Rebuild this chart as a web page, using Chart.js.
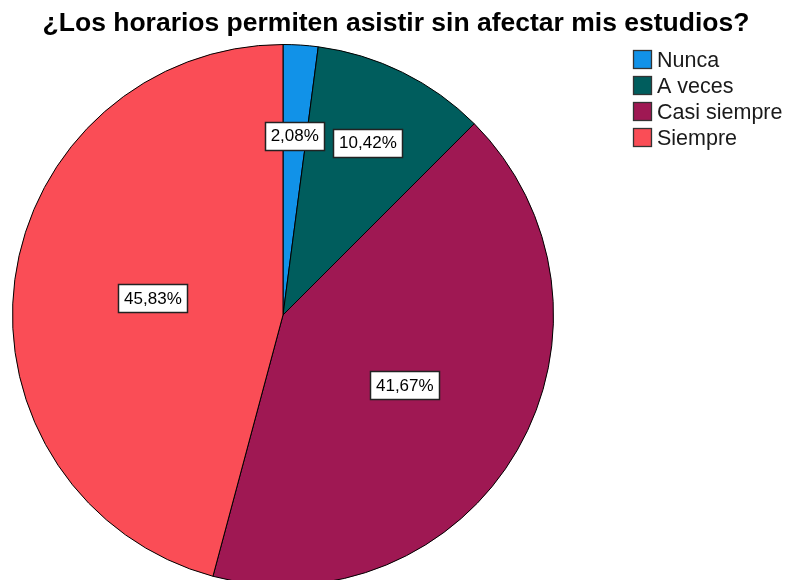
<!DOCTYPE html>
<html>
<head>
<meta charset="utf-8">
<script src="https://cdn.jsdelivr.net/npm/chart.js@4.4.7/dist/chart.umd.min.js"></script>
<style>
  html, body { margin: 0; padding: 0; background: #fff; overflow: hidden; }
  canvas { display: block; }
</style>
</head>
<body>
<canvas id="chart" width="787" height="600"></canvas>
<script>
// Data
const title = "¿Los horarios permiten asistir sin afectar mis estudios?";
const categories = ["Nunca", "A veces", "Casi siempre", "Siempre"];
const percents = [2.08, 10.42, 41.67, 45.83];
const labels = ["2,08%", "10,42%", "41,67%", "45,83%"];
const colors = ["#1192e8", "#005d5d", "#9f1853", "#fa4d56"];

// how far out (fraction of radius) each label box sits
const labelRadius = [0.665, 0.71, 0.52, 0.485];

const FONT = "Liberation Sans, Arial, sans-serif";

// Title, legend and boxed percent labels, SPSS style
const decorations = {
  id: "decorations",
  afterDatasetsDraw(chart) {
    const ctx = chart.ctx;
    ctx.save();

    // title
    ctx.fillStyle = "#000";
    ctx.font = "bold 26.5px " + FONT;
    ctx.textAlign = "center";
    ctx.textBaseline = "middle";
    ctx.fillText(title, 396, 24);

    // percent labels in white boxes
    const arcs = chart.getDatasetMeta(0).data;
    ctx.font = "17px " + FONT;
    arcs.forEach(function (arc, i) {
      const p = arc.getProps(["x", "y", "startAngle", "endAngle", "outerRadius"], true);
      const mid = (p.startAngle + p.endAngle) / 2;
      const r = p.outerRadius * labelRadius[i];
      const cx = p.x + Math.cos(mid) * r;
      const cy = p.y + Math.sin(mid) * r;
      const w = Math.round(ctx.measureText(labels[i]).width + 11);
      const h = 28;
      const x0 = Math.round(cx - w / 2) + 0.5;
      const y0 = Math.round(cy - h / 2) + 0.5;
      ctx.fillStyle = "#fff";
      ctx.fillRect(x0, y0, w, h);
      ctx.strokeStyle = "#222";
      ctx.lineWidth = 1.5;
      ctx.strokeRect(x0, y0, w, h);
      ctx.fillStyle = "#000";
      ctx.textAlign = "center";
      ctx.fillText(labels[i], cx, cy + 1);
    });

    // legend
    ctx.font = "21.5px " + FONT;
    ctx.textAlign = "left";
    categories.forEach(function (name, i) {
      const y = 60 + i * 26;
      ctx.fillStyle = colors[i];
      ctx.fillRect(633.5, y - 9.5, 18, 18);
      ctx.strokeStyle = "#333";
      ctx.lineWidth = 1.3;
      ctx.strokeRect(633.5, y - 9.5, 18, 18);
      ctx.fillStyle = "#1a1a1a";
      ctx.fillText(name, 657, y + 1);
    });

    ctx.restore();
  },
};

new Chart(document.getElementById("chart"), {
  type: "pie",
  data: {
    labels: categories,
    datasets: [{
      data: percents,
      backgroundColor: colors,
      borderColor: "#000",
      borderWidth: 1,
    }],
  },
  options: {
    responsive: false,
    animation: false,
    layout: { padding: { left: 12, top: 44, right: 233, bottom: 14 } },
    plugins: {
      legend: { display: false },
      title: { display: false },
      tooltip: { enabled: false },
    },
  },
  plugins: [decorations],
});
</script>
</body>
</html>
